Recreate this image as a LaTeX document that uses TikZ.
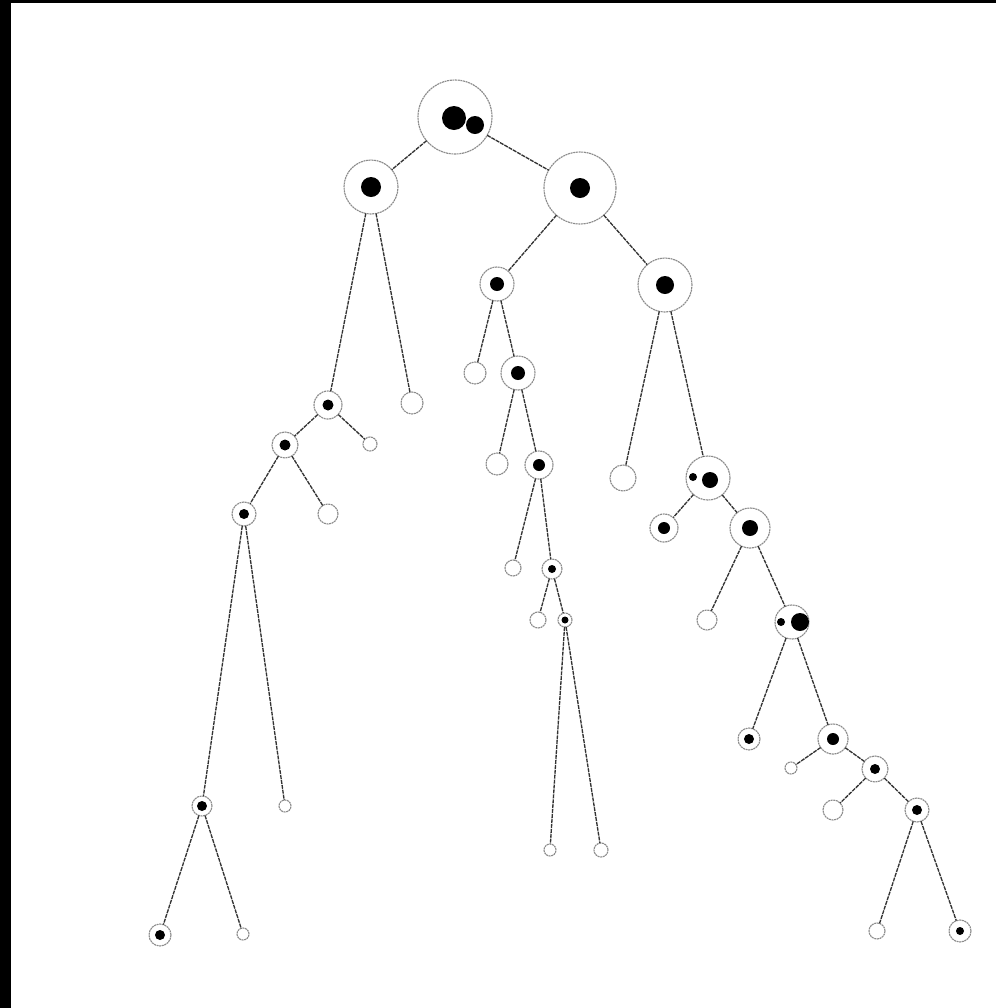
\documentclass[tikz,border=0pt]{standalone}
\usepackage{tikz}

\tikzset{
  nd/.style={circle, draw=black!45, line width=0.85pt, dash pattern=on 1.5pt off 0.5pt,
    fill=white, inner sep=0pt, outer sep=0pt, minimum size={#1*1.5pt}},
  link/.style={draw=black!80, line width=1pt, dash pattern=on 3pt off 0.7pt},
}

\begin{document}
\begin{tikzpicture}[x=0.75pt,y=-0.75pt]
% frame
\fill[black] (0,0) rectangle (996,1008);
\fill[white] (11,3) rectangle (996,1008);

% nodes (radius in px)
\node[nd=37] (r) at (455,117) {};
\node[nd=27] (a) at (371,187) {};
\node[nd=36] (b) at (580,188) {};
% left branch
\node[nd=14] (a1) at (328,405) {};
\node[nd=11] (a2) at (412,403) {};
\node[nd=13] (a11) at (285,445) {};
\node[nd=7] (a12) at (370,444) {};
\node[nd=12] (a111) at (244,514) {};
\node[nd=10] (a112) at (328,514) {};
\node[nd=10] (a1111) at (202,806) {};
\node[nd=6] (a1112) at (285,806) {};
\node[nd=11] (a11111) at (160,935) {};
\node[nd=6] (a11112) at (243,934) {};
% middle branch
\node[nd=17] (b1) at (497,284) {};
\node[nd=11] (b11) at (475,373) {};
\node[nd=17] (b12) at (518,373) {};
\node[nd=11] (b121) at (497,464) {};
\node[nd=14] (b122) at (539,465) {};
\node[nd=8] (b1221) at (513,568) {};
\node[nd=10] (b1222) at (552,569) {};
\node[nd=8] (b12221) at (538,620) {};
\node[nd=7] (b12222) at (565,620) {};
\node[nd=6] (b122221) at (550,850) {};
\node[nd=7] (b122222) at (601,850) {};
% right branch
\node[nd=27] (b2) at (665,285) {};
\node[nd=13] (b21) at (623,478) {};
\node[nd=22] (b22) at (708,478) {};
\node[nd=14] (b221) at (664,528) {};
\node[nd=20] (b222) at (750,528) {};
\node[nd=10] (b2221) at (707,620) {};
\node[nd=17] (b2222) at (792,622) {};
\node[nd=11] (c1) at (749,739) {};
\node[nd=15] (c2) at (833,739) {};
\node[nd=6] (c21) at (791,768) {};
\node[nd=13] (c22) at (875,769) {};
\node[nd=10] (c221) at (833,810) {};
\node[nd=12] (c222) at (917,810) {};
\node[nd=8] (c2221) at (877,931) {};
\node[nd=11] (c2222) at (960,931) {};

% links
\foreach \p/\c in {r/a, r/b, a/a1, a/a2, a1/a11, a1/a12, a11/a111, a11/a112,
  a111/a1111, a111/a1112, a1111/a11111, a1111/a11112,
  b/b1, b/b2, b1/b11, b1/b12, b12/b121, b12/b122, b122/b1221, b122/b1222,
  b1222/b12221, b1222/b12222, b12222/b122221, b12222/b122222,
  b2/b21, b2/b22, b22/b221, b22/b222, b222/b2221, b222/b2222,
  b2222/c1, b2222/c2, c2/c21, c2/c22, c22/c221, c22/c222, c222/c2221, c222/c2222}
  \draw[link] (\p) -- (\c);

% dots
\fill (454,118) circle[radius=12];
\fill (475,125) circle[radius=9];
\fill (a) circle[radius=10];
\fill (b) circle[radius=10];
\fill (a1) circle[radius=5.5];
\fill (a11) circle[radius=5.5];
\fill (a111) circle[radius=5];
\fill (a1111) circle[radius=5];
\fill (a11111) circle[radius=5];
\fill (b1) circle[radius=7];
\fill (b12) circle[radius=7];
\fill (b122) circle[radius=6];
\fill (b1222) circle[radius=4];
\fill (b12222) circle[radius=3.5];
\fill (b2) circle[radius=9];
\fill (693,477) circle[radius=4];
\fill (710,480) circle[radius=8];
\fill (b221) circle[radius=6];
\fill (b222) circle[radius=8];
\fill (781,622) circle[radius=4];
\fill (800,622) circle[radius=9];
\fill (c1) circle[radius=5];
\fill (c2) circle[radius=6];
\fill (c22) circle[radius=5];
\fill (c222) circle[radius=5];
\fill (c2222) circle[radius=4];
\end{tikzpicture}
\end{document}
